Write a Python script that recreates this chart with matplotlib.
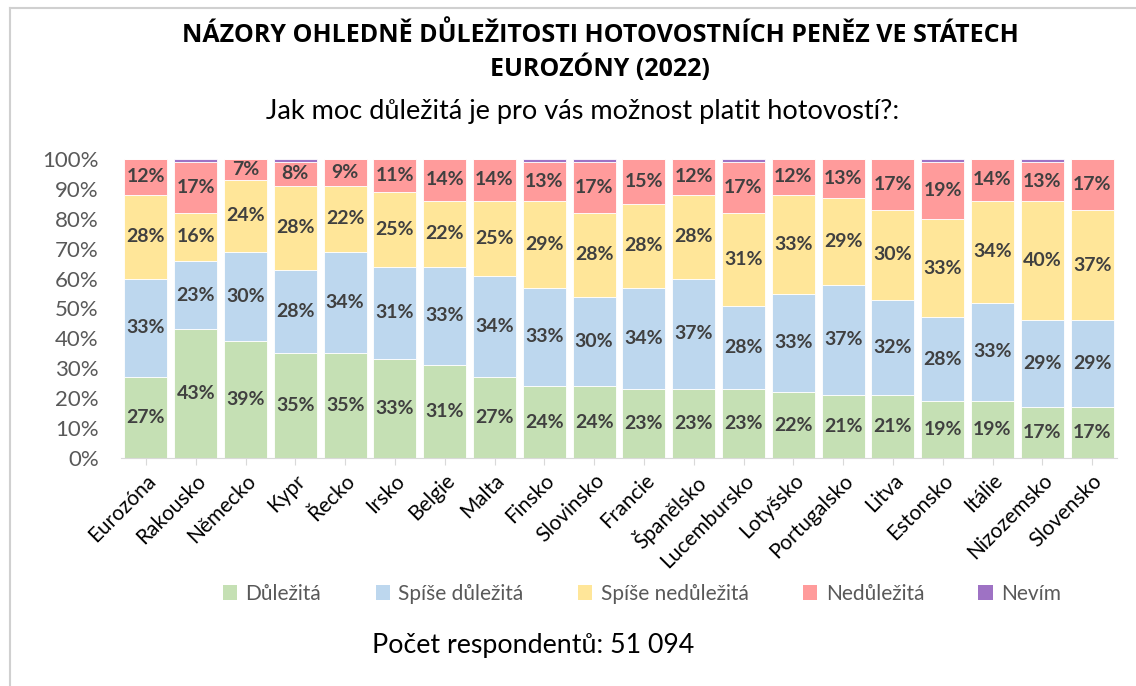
import matplotlib
matplotlib.use("Agg")
import matplotlib.pyplot as plt
from matplotlib.patches import Patch
from matplotlib.lines import Line2D
import numpy as np

plt.rcParams['font.family'] = ['Lato', 'DejaVu Sans']

# data (in %)
countries = ["Eurozóna", "Rakousko", "Německo", "Kypr", "Řecko", "Irsko", "Belgie",
             "Malta", "Finsko", "Slovinsko", "Francie", "Španělsko", "Lucembursko",
             "Lotyšsko", "Portugalsko", "Litva", "Estonsko", "Itálie", "Nizozemsko",
             "Slovensko"]
dulezita = [27, 43, 39, 35, 35, 33, 31, 27, 24, 24, 23, 23, 23, 22, 21, 21, 19, 19, 17, 17]
spise_dulezita = [33, 23, 30, 28, 34, 31, 33, 34, 33, 30, 34, 37, 28, 33, 37, 32, 28, 33, 29, 29]
spise_nedulezita = [28, 16, 24, 28, 22, 25, 22, 25, 29, 28, 28, 28, 31, 33, 29, 30, 33, 34, 40, 37]
nedulezita = [12, 17, 7, 8, 9, 11, 14, 14, 13, 17, 15, 12, 17, 12, 13, 17, 19, 14, 13, 17]
nevim = [0, 1, 0, 1, 0, 0, 0, 0, 1, 1, 0, 0, 1, 0, 0, 0, 1, 0, 1, 0]

series_names = ["Důležitá", "Spíše důležitá", "Spíše nedůležitá", "Nedůležitá", "Nevím"]
series_vals = [dulezita, spise_dulezita, spise_nedulezita, nedulezita, nevim]
colors = ["#C5E0B4", "#BDD7EE", "#FFE699", "#FF9B9B", "#9E72C4"]
show_labels = [True, True, True, True, False]

W, H = 1136, 686
fig = plt.figure(figsize=(W / 100, H / 100), dpi=100)

# plot area in pixels
left, right, top, bottom = 121, 1117, 159, 458
ax = fig.add_axes([left / W, 1 - bottom / H, (right - left) / W, (bottom - top) / H])

x = np.arange(len(countries))
base = np.zeros(len(countries))
for name, vals, col, lab in zip(series_names, series_vals, colors, show_labels):
    vals = np.array(vals, dtype=float)
    ax.bar(x, vals, bottom=base, width=0.86, color=col, edgecolor="white",
           linewidth=0.6, label=name)
    if lab:
        for xi, b, v in zip(x, base, vals):
            ax.text(xi, b + v / 2, f"{int(v)}%", ha="center", va="center",
                    fontsize=14, fontweight="bold", color="#404040")
    base += vals

ax.set_xlim(-0.5, len(countries) - 0.5)
ax.set_ylim(0, 100)
ax.set_yticks(np.arange(0, 101, 10))
ax.set_yticklabels([f"{v}%" for v in range(0, 101, 10)], fontsize=16, color="#595959")
ax.set_xticks(x)
ax.set_xticklabels(countries, rotation=45, ha="right", rotation_mode="anchor",
                   fontsize=15, color="black")
ax.tick_params(axis="y", length=0, pad=16)
ax.tick_params(axis="x", length=5, color="#D9D9D9", pad=4)
for s in ["top", "right", "left"]:
    ax.spines[s].set_visible(False)
ax.spines["bottom"].set_color("#D9D9D9")

# titles
title_font = ['Open Sans', 'DejaVu Sans']
fig.text(600 / W, 1 - 35 / H, "NÁZORY OHLEDNĚ DŮLEŽITOSTI HOTOVOSTNÍCH PENĚZ VE STÁTECH",
         ha="center", va="center", fontsize=18, fontweight="bold", color="black",
         family=title_font)
fig.text(600 / W, 1 - 68 / H, "EUROZÓNY (2022)", ha="center", va="center",
         fontsize=18, fontweight="bold", color="black", family=title_font)
fig.text(583 / W, 1 - 112 / H, "Jak moc důležitá je pro vás možnost platit hotovostí?:",
         ha="center", va="center", fontsize=19.5, color="black")
fig.text(533 / W, 1 - 645 / H, "Počet respondentů: 51 094", ha="center", va="center",
         fontsize=19.3, color="black")

# legend
handles = [Patch(facecolor=c, edgecolor="none") for c in colors]
fig.legend(handles, series_names, loc="center", bbox_to_anchor=(642 / W, 1 - 594 / H),
           ncol=5, frameon=False, fontsize=15, labelcolor="#595959",
           handlelength=0.7, handleheight=0.7, handletextpad=0.4, columnspacing=2.6)

# outer frame (left and top edges)
fig.add_artist(Line2D([10 / W, 10 / W], [0, 1 - 8 / H], transform=fig.transFigure,
                      color="#D0D0D0", linewidth=1.5))
fig.add_artist(Line2D([10 / W, 1], [1 - 8 / H, 1 - 8 / H], transform=fig.transFigure,
                      color="#D0D0D0", linewidth=1.5))

fig.savefig("out.png", dpi=100)
